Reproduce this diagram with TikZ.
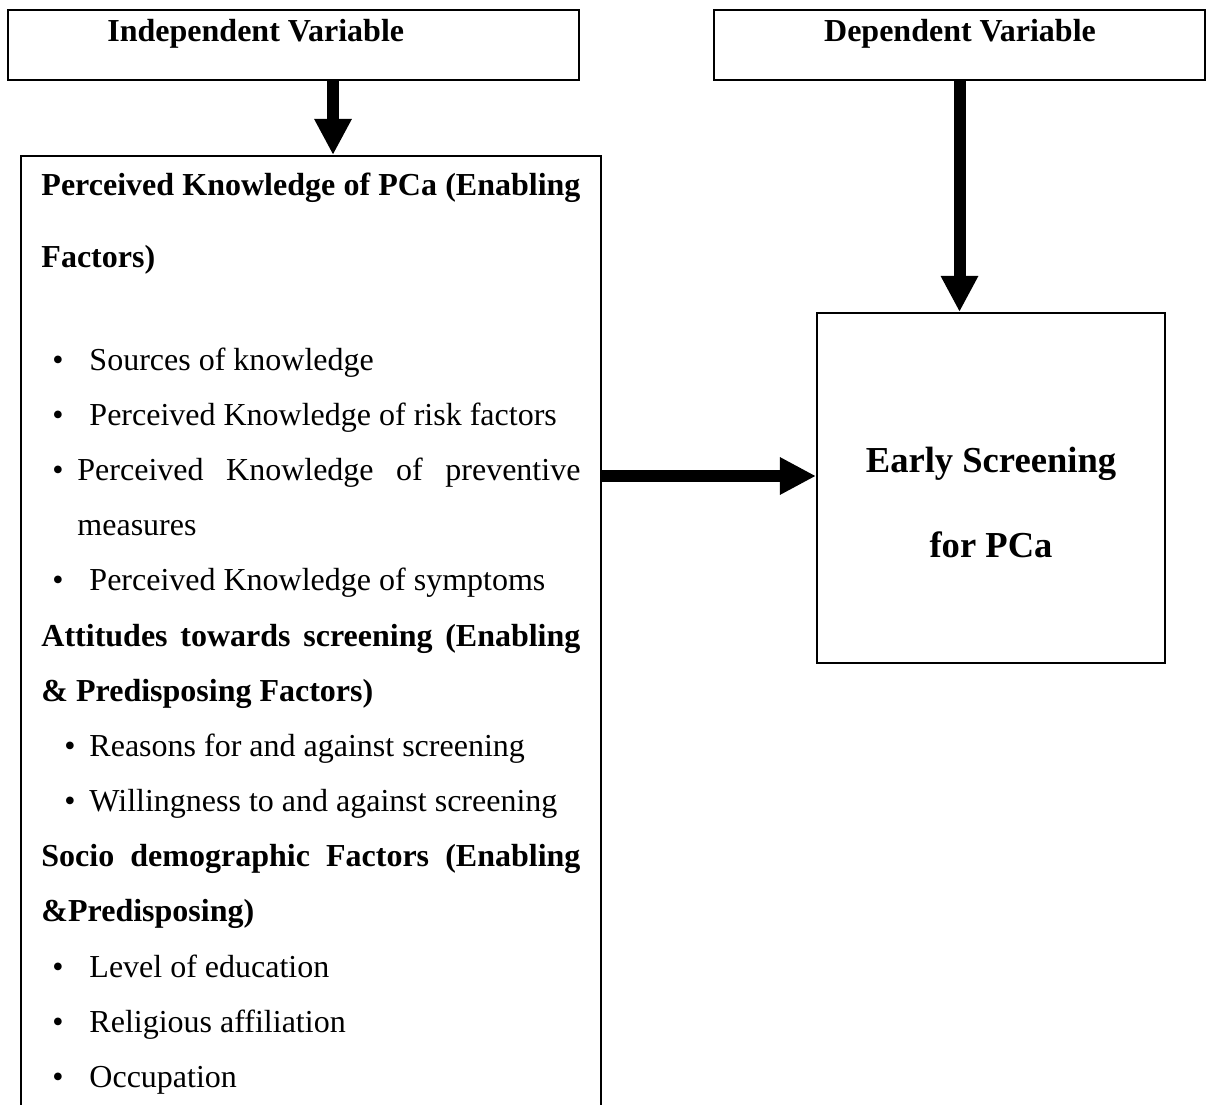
\documentclass[tikz,border=0pt]{standalone}
\usepackage{fontspec}
\setmainfont{Liberation Serif}
\usetikzlibrary{arrows.meta,fit}

\newdimen\pxu \pxu=0.4375pt
\newcommand{\jline}[2]{\makebox[#1\pxu][s]{#2}}

\begin{document}
\begin{tikzpicture}[x=0.4375pt, y=-0.4375pt,
        box/.style={draw, line width=0.9pt, inner sep=0pt},
        txt/.style={anchor=base west, inner sep=0pt, font=\fontsize{14}{16}\selectfont},
        dot/.style={anchor=base, inner sep=0pt, font=\fontsize{14}{16}\selectfont},
        fat/.style={line width=5.25pt, -{Triangle[length=15.75pt, width=15.3pt]}}]
            \clip (0,0) rectangle (1212,1105); % page
            \node[box, fit={(8,10) (579,80)}] (indep) {}; % top left box
            \node[box, fit={(714,10) (1205,80)}] (dep) {}; % top right box
            \node[box, fit={(21,156) (601,1140)}] (factors) {}; % long box
            \node[box, fit={(817,313) (1165,663)}] (screening) {}; % outcome box
            \node[anchor=base west, inner sep=0pt, font=\fontsize{14}{16}\selectfont\bfseries] (indeplbl) at (107,42) {Independent Variable};
            \node[anchor=base, inner sep=0pt, font=\fontsize{14}{16}\selectfont\bfseries] (deplbl) at (960,42) {Dependent Variable};
            \coordinate (c1) at (333,0);
            \coordinate (c2) at (0,476);
            \draw[fat] (indep.south -| c1) -- (factors.north -| c1); % down arrow
            \draw[fat] (dep.south) -- (dep.south |- screening.north); % long down arrow
            \draw[fat] (factors.east |- c2) -- (screening.west |- c2); % right arrow
            % knowledge
            \node[txt] (head1) at (41,195) {\bfseries\jline{539}{Perceived Knowledge of PCa (Enabling}};
            \node[txt] (head1b) at (41,268) {\bfseries Factors)};
            \node[dot] (b1) at (58,370) {•};
            \node[txt] (item1) at (89,370) {Sources of knowledge};
            \node[dot] (b2) at (58,425) {•};
            \node[txt] (item2) at (89,425) {Perceived Knowledge of risk factors};
            \node[dot] (b3) at (58,480) {•};
            \node[txt] (item3) at (77,480) {\jline{503}{Perceived Knowledge of preventive}};
            \node[txt] (item3b) at (77,535) {measures};
            \node[dot] (b4) at (58,590) {•};
            \node[txt] (item4) at (89,590) {Perceived Knowledge of symptoms};
            % attitudes
            \node[txt] (head2) at (41,646) {\bfseries\jline{539}{Attitudes towards screening (Enabling}};
            \node[txt] (head2b) at (41,701) {\bfseries \& Predisposing Factors)};
            \node[dot] (b5) at (70,756) {•};
            \node[txt] (item5) at (89,756) {Reasons for and against screening};
            \node[dot] (b6) at (70,811) {•};
            \node[txt] (item6) at (89,811) {Willingness to and against screening};
            % socio demographic
            \node[txt] (head3) at (41,866) {\bfseries\jline{539}{Socio demographic Factors (Enabling}};
            \node[txt] (head3b) at (41,921) {\bfseries \&Predisposing)};
            \node[dot] (b7) at (58,977) {•};
            \node[txt] (item7) at (89,977) {Level of education};
            \node[dot] (b8) at (58,1032) {•};
            \node[txt] (item8) at (89,1032) {Religious affiliation};
            \node[dot] (b9) at (58,1087) {•};
            \node[txt] (item9) at (89,1087) {Occupation};
            % outcome
            \node[anchor=base, inner sep=0pt, font=\fontsize{16}{18}\selectfont\bfseries] (early) at (991,472) {Early Screening};
            \node[anchor=base, inner sep=0pt, font=\fontsize{16}{18}\selectfont\bfseries] (forpca) at (991,557) {for PCa};
        \end{tikzpicture}
\end{document}
